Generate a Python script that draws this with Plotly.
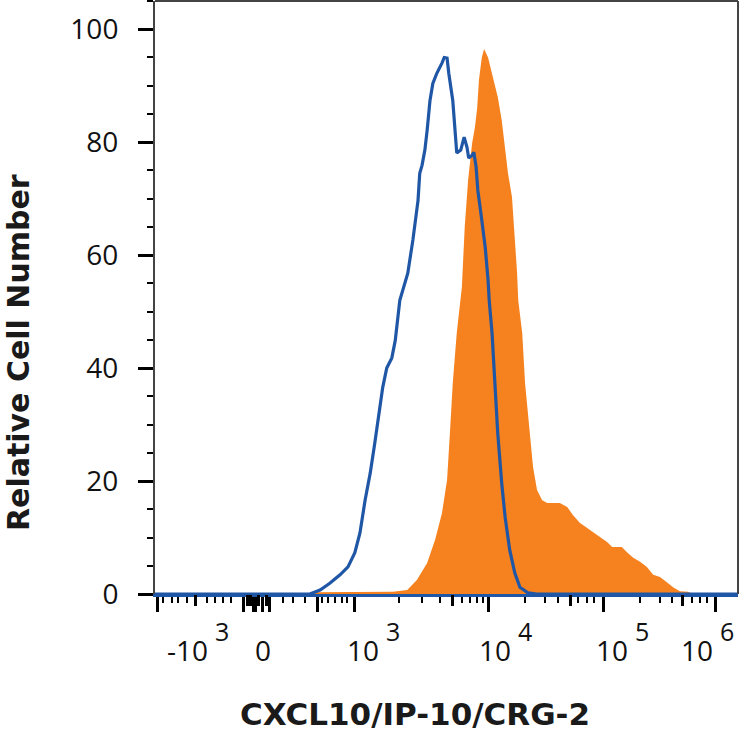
import plotly.graph_objects as go

# display channel (0-1024 biexponential scale) and relative cell number
isotype_x = [0, 272, 290, 307, 325, 339, 351, 360, 369, 378, 386, 395, 400, 407, 416, 422, 427, 430,
             444, 453, 462, 465, 469, 474, 478, 483, 488, 495, 504, 508, 513, 516, 523, 527, 530,
             537, 543, 548, 551, 557, 560, 564, 567, 574, 580, 585, 587, 592, 597, 602, 609, 615,
             623, 632, 641, 655, 671, 1024]
isotype_y = [0, 0, 0.7, 1.9, 3.4, 4.8, 7.3, 10.8, 16.6, 21.4, 26.7, 32.6, 36.6, 40.0, 41.8, 44.9, 49.7, 52.0,
             56.8, 62.7, 69.7, 74.5, 75.9, 78.6, 82.1, 87.4, 90.4, 92.2, 94.0, 95.0, 94.9, 92.2, 87.4, 82.7, 78.1,
             78.6, 80.9, 79.1, 77.2, 77.7, 78.2, 75.6, 71.5, 66.2, 61.4, 55.6, 52.0, 46.2, 37.3, 28.5, 19.6, 13.6,
             7.8, 3.7, 1.2, 0.2, 0, 0]

stained_x = [0, 276, 278, 418, 443, 460, 478, 492, 504, 513, 518, 523, 530, 536, 539, 544, 550, 557, 562,
             566, 569, 574, 578, 585, 594, 602, 609, 615, 620, 627, 631, 636, 638, 645, 650, 659, 664,
             671, 680, 689, 711, 724, 734, 746, 764, 782, 794, 803, 820, 829, 840, 852, 864, 875, 887,
             899, 910, 922, 936, 945, 1024]
stained_y = [0, 0, 0.3, 0.4, 0.7, 2.5, 5.5, 9.6, 14.3, 20.2, 28.5, 37.3, 46.2, 52.0, 54.3, 65.0, 73.3, 79.8, 82.7,
             86.2, 91.0, 95.0, 96.5, 95.0, 91.5, 88.0, 83.9, 78.6, 74.5, 70.3, 65.0, 56.8, 52.0, 46.2, 37.3, 28.5, 22.5,
             18.4, 16.6, 16.1, 16.1, 15.4, 14.0, 12.6, 11.3, 10.1, 9.2, 8.3, 8.3, 7.4, 6.4, 5.7, 4.8, 3.4, 3.0,
             2.1, 1.2, 0.5, 0.4, 0, 0]

# biexponential axis ticks (channel positions)
long_ticks = [4, 155, 173, 177, 188, 201, 285, 351, 585, 787, 984]
mid_ticks = [72, 162, 167, 182, 196, 522, 729, 926]
short_ticks = [14, 30, 40, 56, 91, 105, 119, 133, 225, 242, 263, 293, 304, 316, 328, 337,
               429, 469, 501, 539, 553, 566, 576, 650, 685, 708, 743, 759, 771,
               852, 887, 908, 943, 957, 970]
# decade labels: base text ends / exponent starts at label_pos
label_pos = [98, 190, 399, 631, 836, 985]
label_base = ["-10", "0", "10", "10", "10", "10"]
label_exp = ["3", "", "3", "4", "5", "6"]

ORANGE = "#F5821F"
BLUE = "#1F57A6"
tick_font = dict(family="Open Sans", size=28, color="#111")

fig = go.Figure()

fig.add_trace(go.Scatter(
    x=stained_x, y=stained_y, mode="lines", fill="tozeroy",
    line=dict(color=ORANGE, width=0), fillcolor=ORANGE,
    xaxis="x", hoverinfo="skip", name="CXCL10"
))
fig.add_trace(go.Scatter(
    x=isotype_x, y=isotype_y, mode="lines",
    line=dict(color=BLUE, width=3.2),
    xaxis="x2", hoverinfo="skip", name="Isotype"
))

annotations = [
    dict(text="<b>CXCL10/IP-10/CRG-2</b>", xref="paper", yref="paper",
         x=0.446, y=-0.2024, xanchor="center", yanchor="middle", showarrow=False,
         font=dict(family="DejaVu Sans", size=31, color="#1a1a1a")),
    dict(text="<b>Relative Cell Number</b>", xref="paper", yref="paper",
         x=-0.235, y=0.408, xanchor="center", yanchor="middle", showarrow=False,
         textangle=-90, font=dict(family="DejaVu Sans", size=30, color="#1a1a1a")),
]
for pos, base, exp in zip(label_pos, label_base, label_exp):
    annotations.append(dict(
        text=base, xref="x", yref="paper", x=pos, y=-0.094,
        xanchor="right" if exp else "center", yanchor="middle", xshift=-1 if exp else 0,
        showarrow=False, font=tick_font))
    if exp:
        annotations.append(dict(
            text=exp, xref="x", yref="paper", x=pos, y=-0.062,
            xanchor="left", yanchor="middle", xshift=2,
            showarrow=False, font=dict(family="Open Sans", size=25, color="#111")))

fig.update_layout(
    width=741, height=745,
    margin=dict(l=155, r=3, t=1, b=151),
    plot_bgcolor="white", paper_bgcolor="white",
    showlegend=False,
    xaxis=dict(
        range=[0, 1024], showgrid=False, zeroline=False,
        showline=True, linecolor=BLUE, linewidth=2.5,
        tickmode="array", tickvals=long_ticks, showticklabels=False,
        ticks="outside", ticklen=15, tickwidth=3, tickcolor="#000",
        minor=dict(tickmode="array", tickvals=short_ticks, ticks="outside",
                   ticklen=6, tickwidth=2, tickcolor="#000"),
    ),
    xaxis2=dict(
        range=[0, 1024], overlaying="x", anchor="y", side="bottom",
        showgrid=False, zeroline=False, showline=False,
        tickmode="array", tickvals=mid_ticks, showticklabels=False,
        ticks="outside", ticklen=11, tickwidth=3, tickcolor="#000",
    ),
    yaxis=dict(
        range=[0, 105], showgrid=False, zeroline=False,
        showline=True, linecolor="#444", linewidth=2,
        tickmode="array", tickvals=[0, 20, 40, 60, 80, 100],
        ticks="outside", ticklen=15, tickwidth=3, tickcolor="#000",
        tickfont=tick_font, ticklabelstandoff=14,
        minor=dict(dtick=5, ticks="outside", ticklen=6, tickwidth=2, tickcolor="#000"),
    ),
    shapes=[
        dict(type="line", xref="paper", yref="paper", x0=0, x1=1, y0=1, y1=1,
             line=dict(color="#444", width=2)),
        dict(type="line", xref="paper", yref="paper", x0=1, x1=1, y0=0, y1=1,
             line=dict(color="#444", width=2)),
    ],
    annotations=annotations,
)

# page body margin would shift the figure by 8px
fig.write_html("out.html", config={"displayModeBar": False},
               post_script="document.body.style.margin='0';")
